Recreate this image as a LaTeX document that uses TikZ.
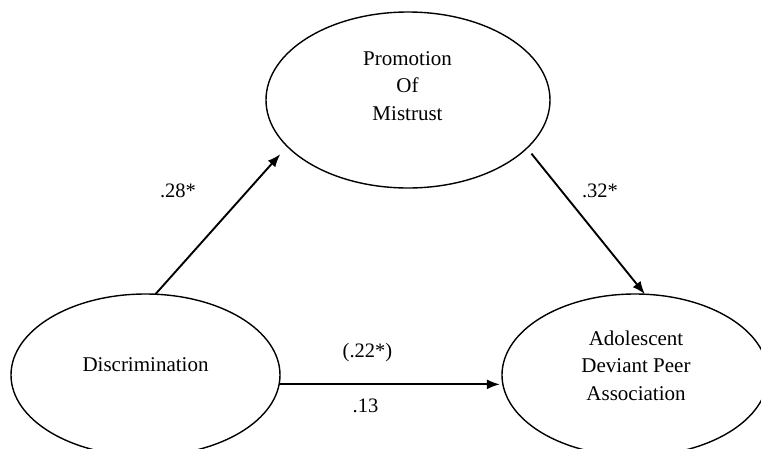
\documentclass[tikz,border=0pt]{standalone}
\usepackage{fontspec}
\setmainfont{Liberation Serif}
\usetikzlibrary{shapes.geometric,arrows.meta}

\tikzset{
  construct/.style={ellipse, draw, line width=1.4pt, inner sep=0pt, outer sep=0pt},
  caption/.style={align=center, font=\fontsize{21}{27.5}\selectfont, inner sep=0pt},
  coef/.style={anchor=base, font=\fontsize{20.5}{24}\selectfont, inner sep=0pt},
  path/.style={line width=1.9pt, -{Latex[length=13pt,width=10pt]}}
}

\begin{document}
\begin{tikzpicture}[x=1pt,y=-1pt]
  \useasboundingbox (0,0) rectangle (761,448);

  % latent constructs
  \node[construct, minimum width=284pt, minimum height=176pt] (prom) at (408,100) {};
  \node[construct, minimum width=269pt, minimum height=162pt] (disc) at (145.5,375) {};
  \node[construct, minimum width=266pt, minimum height=162pt] (adpa) at (635,375) {};

  % construct names
  \node[caption] (promtxt) at (407.5,86) {Promotion\\Of\\Mistrust};
  \node[caption] (disctxt) at (145.5,365) {Discrimination};
  \node[caption] (adpatxt) at (636,365.5) {Adolescent\\Deviant Peer\\Association};

  % structural paths
  \draw[path, shorten >=10.5pt] (disc.83.4) -- (prom.201.5);
  \draw[path, shorten <=7.2pt] (prom.338.9) -- (adpa.83);
  \draw[path, shorten >=2.6pt] (disc.356.6) -- (disc.356.6 -| adpa.183.5);

  % path coefficients
  \node[coef] (c1) at (178,197) {.28*};
  \node[coef] (c2) at (600,197) {.32*};
  \node[coef] (c3) at (367.5,357) {(.22*)};
  \node[coef] (c4) at (365.5,412) {.13};
\end{tikzpicture}
\end{document}
